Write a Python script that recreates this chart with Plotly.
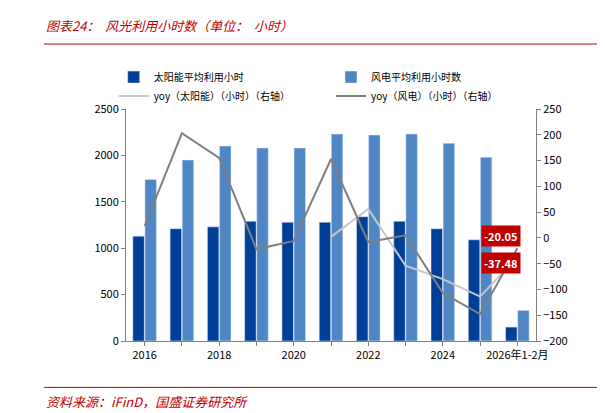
import plotly.graph_objects as go

categories = ['2016', '2017', '2018', '2019', '2020', '2021', '2022', '2023', '2024', '2025', '2026年1-2月']
tick_labels = ['2016', '', '2018', '', '2020', '', '2022', '', '2024', '', '2026年1-2月']
solar_hours = [1130, 1210, 1230, 1290, 1280, 1280, 1340, 1290, 1210, 1090, 150]
wind_hours = [1740, 1950, 2100, 2080, 2080, 2230, 2220, 2230, 2130, 1980, 330]
solar_yoy = [None, None, None, None, None, 2, 56, -54, -80, -114, -37.48]
wind_yoy = [23, 203, 155, -22, -6, 153, -8, 5, -107, -148, -20.05]

fig = go.Figure()
fig.add_trace(go.Bar(x=categories, y=solar_hours, name='太阳能平均利用小时', marker_color='#003f97',
                     legend='legend'))
fig.add_trace(go.Bar(x=categories, y=wind_hours, name='风电平均利用小时数', marker_color='#4f86c6',
                     legend='legend2'))
fig.add_trace(go.Scatter(x=categories, y=solar_yoy, name='yoy（太阳能）（小时）（右轴）', mode='lines',
                         line=dict(color='#c8c8c8', width=2), yaxis='y2', legend='legend'))
fig.add_trace(go.Scatter(x=categories, y=wind_yoy, name='yoy（风电）（小时）（右轴）', mode='lines',
                         line=dict(color='#7f7f7f', width=2), yaxis='y2', legend='legend2'))

for val, shift in [(wind_yoy[-1], 12), (solar_yoy[-1], -6)]:
    fig.add_annotation(x=categories[-1], y=val, yref='y2', text='<b>%.2f</b>' % val,
                       showarrow=False, xanchor='right', xshift=4, yshift=shift,
                       bgcolor='#c00000', font=dict(color='white', size=11), borderpad=2)

leg = dict(orientation='v', y=1.2, xanchor='left', yanchor='top', font=dict(size=10),
           traceorder='normal', itemwidth=30, tracegroupgap=0, bgcolor='rgba(0,0,0,0)')

fig.update_layout(
    width=605, height=413,
    margin=dict(l=118, r=77, t=101, b=80),
    plot_bgcolor='white', paper_bgcolor='white',
    font=dict(family='Noto Sans CJK SC', size=11, color='black'),
    barmode='group', bargap=0.35, bargroupgap=0.05,
    showlegend=True,
    legend=dict(leg, x=-0.03),
    legend2=dict(leg, x=0.5),
    xaxis=dict(tickvals=categories, ticktext=tick_labels, showline=True, linecolor='#808080',
               ticks='outside', tickcolor='#808080', ticklen=4, tickangle=0),
    yaxis=dict(range=[0, 2500], dtick=500, showgrid=False, showline=True, linecolor='#808080',
               ticks='outside', tickcolor='#808080', ticklen=4),
    yaxis2=dict(range=[-200, 250], dtick=50, overlaying='y', side='right', showgrid=False,
                showline=True, linecolor='#808080', ticks='outside', tickcolor='#808080', ticklen=4,
                zeroline=False),
)

fig.add_annotation(xref='paper', yref='paper', x=-0.2, y=1.36, xanchor='left', yanchor='middle',
                   text='<i>图表24：  风光利用小时数（单位：  小时）</i>', showarrow=False,
                   font=dict(size=13, color='#c00000'))
fig.add_shape(type='line', xref='paper', yref='paper', x0=-0.2, x1=1.24, y0=1.28, y1=1.28,
              line=dict(color='#c00000', width=1))
fig.add_shape(type='line', xref='paper', yref='paper', x0=-0.2, x1=1.24, y0=-0.2, y1=-0.2,
              line=dict(color='#c00000', width=1))
fig.add_annotation(xref='paper', yref='paper', x=-0.2, y=-0.26, xanchor='left', yanchor='middle',
                   text='<i>资料来源：iFinD，国盛证券研究所</i>', showarrow=False,
                   font=dict(size=13, color='#c00000'))

fig.write_html('out.html')
